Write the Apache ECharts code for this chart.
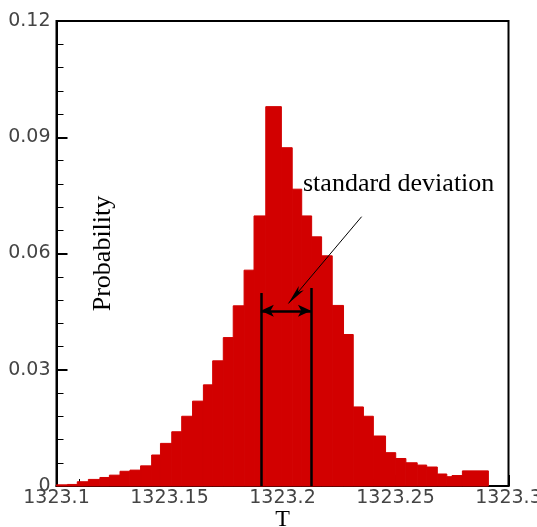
<!DOCTYPE html>
<html>
<head>
<meta charset="utf-8">
<script src="https://cdn.jsdelivr.net/npm/echarts@6/dist/echarts.min.js"></script>
<style>
  html, body, #main { width: 100%; height: 100%; margin: 0; background: #fff; }
</style>
</head>
<body>
<div id="main"></div>
<script>
// bin edges (T) and probability of each bin
var binEdges = [
  1323.1000, 1323.1048, 1323.1092, 1323.1141, 1323.1192, 1323.1234, 1323.1281,
  1323.1325, 1323.1372, 1323.1421, 1323.1460, 1323.1510, 1323.1554, 1323.1602,
  1323.1650, 1323.1691, 1323.1738, 1323.1782, 1323.1830, 1323.1874, 1323.1926,
  1323.1995, 1323.2043, 1323.2085, 1323.2129, 1323.2173, 1323.2220, 1323.2270,
  1323.2313, 1323.2358, 1323.2402, 1323.2456, 1323.2501, 1323.2546, 1323.2596,
  1323.2638, 1323.2685, 1323.2727, 1323.2750, 1323.2796, 1323.2911
];
var probability = [
  0.0003, 0.0004, 0.0011, 0.0017, 0.0022, 0.0028, 0.0038, 0.0041, 0.0052, 0.0080,
  0.0110, 0.0140, 0.0180, 0.0219, 0.0261, 0.0323, 0.0383, 0.0465, 0.0557, 0.0697,
  0.0979, 0.0873, 0.0766, 0.0697, 0.0643, 0.0594, 0.0466, 0.0391, 0.0204, 0.0180,
  0.0129, 0.0086, 0.0071, 0.0060, 0.0054, 0.0049, 0.0031, 0.0024, 0.0027, 0.0039
];
var xTicks = ['1323.1', '1323.15', '1323.2', '1323.25', '1323.3'];
var yTicks = ['0', '0.03', '0.06', '0.09', '0.12'];

// standard deviation markers
var sdLeft = [1323.1904, 0.0498];
var sdRight = [1323.2126, 0.0511];
var sdArrowY = 0.0452;
var pointerFrom = [1323.2350, 0.0695];
var pointerTo = [1323.2026, 0.0471];

var bins = [];
for (var i = 0; i < probability.length; i++) {
  bins.push([binEdges[i], binEdges[i + 1], probability[i]]);
}

var chart = echarts.init(document.getElementById('main'));
var labelFont = { fontFamily: 'DejaVu Sans', fontSize: 19, color: '#444' };

chart.setOption({
  animation: false,
  grid: {
    left: 56.5, right: 28.5, top: 21, bottom: 41,
    outerBoundsMode: 'none', containLabel: false,
    show: true, borderColor: '#000', borderWidth: 2
  },
  xAxis: {
    type: 'value', min: 1323.1, max: 1323.3, interval: 0.05,
    name: 'T', nameLocation: 'middle', nameGap: 22, nameMoveOverlap: false,
    nameTextStyle: { fontFamily: 'Liberation Serif', fontSize: 24, color: '#000' },
    axisLine: { show: true, lineStyle: { color: '#000', width: 2 } },
    axisTick: { inside: true, length: 11, lineStyle: { color: '#000', width: 2 } },
    minorTick: { show: true, splitNumber: 5, length: 7, lineStyle: { color: '#000', width: 1 } },
    splitLine: { show: false },
    axisLabel: Object.assign({
      margin: 3,
      formatter: function (v) {
        var idx = Math.round((v - 1323.1) / 0.05);
        return xTicks[idx];
      }
    }, labelFont)
  },
  yAxis: {
    type: 'value', min: 0, max: 0.12, interval: 0.03,
    name: 'Probability', nameLocation: 'middle', nameGap: -60, nameMoveOverlap: false,
    nameTextStyle: { fontFamily: 'Liberation Serif', fontSize: 26, color: '#000' },
    axisLine: { show: true, lineStyle: { color: '#000', width: 2 } },
    axisTick: { inside: true, length: 11, lineStyle: { color: '#000', width: 2 } },
    minorTick: { show: true, splitNumber: 5, length: 7, lineStyle: { color: '#000', width: 1 } },
    splitLine: { show: false },
    axisLabel: Object.assign({
      margin: 6,
      formatter: function (v) {
        return yTicks[Math.round(v / 0.03)];
      }
    }, labelFont)
  },
  series: [{
    type: 'custom',
    data: bins,
    renderItem: function (params, api) {
      var p0 = api.coord([api.value(0), api.value(2)]);
      var p1 = api.coord([api.value(1), 0]);
      return {
        type: 'rect',
        shape: { x: p0[0], y: p0[1], width: p1[0] - p0[0], height: p1[1] - p0[1] },
        style: { fill: '#d20000', stroke: '#d20000', lineWidth: 1 }
      };
    },
    markLine: {
      silent: true,
      symbol: 'none',
      label: { show: false },
      data: [
        [{ coord: [sdLeft[0], 0], lineStyle: { color: '#000', width: 2.5, type: 'solid' } },
         { coord: [sdLeft[0], sdLeft[1]] }],
        [{ coord: [sdRight[0], 0], lineStyle: { color: '#000', width: 2.5, type: 'solid' } },
         { coord: [sdRight[0], sdRight[1]] }],
        [{ coord: [sdLeft[0], sdArrowY], symbol: 'arrow', symbolSize: [9, 13],
           lineStyle: { color: '#000', width: 2.5, type: 'solid' } },
         { coord: [sdRight[0], sdArrowY], symbol: 'arrow', symbolSize: [9, 13] }],
        [{ coord: pointerFrom, symbol: 'none',
           lineStyle: { color: '#000', width: 1, type: 'solid' } },
         { coord: pointerTo, symbol: 'arrow', symbolSize: [5, 20] }]
      ]
    }
  }],
  graphic: [{
    type: 'text', left: 303, top: 171,
    style: { text: 'standard deviation', fontFamily: 'Liberation Serif', fontSize: 26, fill: '#000' }
  }]
});
</script>
</body>
</html>
